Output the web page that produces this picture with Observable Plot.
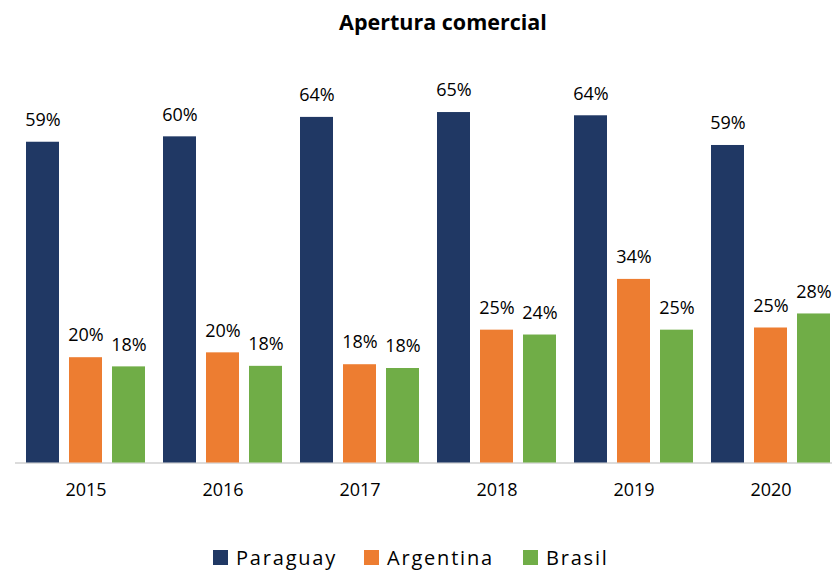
<!DOCTYPE html>
<html>
<head>
<meta charset="utf-8">
<script src="https://cdn.jsdelivr.net/npm/d3@7"></script>
<script src="https://cdn.jsdelivr.net/npm/@observablehq/plot@0.6"></script>
<style>
  html, body { margin: 0; padding: 0; background: #fff; overflow: hidden; }
  #wrap { position: relative; width: 832px; height: 571px; overflow: hidden; font-family: "Open Sans", sans-serif; }
  #chart { position: absolute; left: 0; top: 0; }
  #title { position: absolute; left: 54px; width: 778px; top: 7px; text-align: center; font-weight: bold; font-size: 21.5px; line-height: 30px; color: #000; }
  .leg { position: absolute; top: 543px; height: 28px; display: flex; align-items: center; font-size: 20px; letter-spacing: 1.8px; color: #000; }
  .sw { width: 15px; height: 15px; margin-right: 8px; }
</style>
</head>
<body>
<div id="wrap">
  <div id="chart"></div>
  <div id="title">Apertura comercial</div>
  <div id="legend"></div>
</div>
<script>
const years = ["2015", "2016", "2017", "2018", "2019", "2020"];
const countries = ["Paraguay", "Argentina", "Brasil"];
const paraguay = [59.4, 60.4, 64.0, 64.9, 64.3, 58.8];
const argentina = [19.5, 20.4, 18.2, 24.6, 34.0, 25.0];
const brasil = [17.8, 17.9, 17.5, 23.7, 24.6, 27.6];
const colors = ["#203864", "#ED7D31", "#70AD47"];

const series = [paraguay, argentina, brasil];
const rows = [];
countries.forEach((c, i) => years.forEach((y, j) => rows.push({ year: y, country: c, value: series[i][j] })));

const insL = [0, 43, 86], insR = [86, 43, 0], offs = [-43, 0, 43];
const marks = [];
countries.forEach((c, i) => {
  const sub = rows.filter(d => d.country === c);
  marks.push(Plot.barY(sub, { x: "year", y: "value", fill: colors[i], insetLeft: insL[i], insetRight: insR[i] }));
  marks.push(Plot.text(sub, { x: "year", y: "value", text: d => Math.round(d.value) + "%", dx: offs[i], dy: -22, fill: "#000", fontSize: 18 }));
});
marks.unshift(Plot.ruleY([0], { stroke: "#d0d0d0", strokeWidth: 1.5 }));

const chart = Plot.plot({
  width: 832,
  height: 510,
  marginLeft: 15,
  marginRight: 0,
  marginTop: 84.5,
  marginBottom: 47.5,
  style: { fontFamily: "Open Sans, sans-serif", fontSize: "18px", color: "#000", background: "transparent", overflow: "visible" },
  x: { domain: years, range: [24, 832], paddingInner: 0.128, paddingOuter: 0, label: null, tickSize: 0, tickPadding: 20 },
  y: { domain: [0, 70], axis: null },
  marks
});
document.getElementById("chart").appendChild(chart);

const legPos = [213, 364, 523];
const legend = document.getElementById("legend");
countries.forEach((c, i) => {
  const el = document.createElement("div");
  el.className = "leg";
  el.style.left = legPos[i] + "px";
  el.innerHTML = `<div class="sw" style="background:${colors[i]}"></div><span>${c}</span>`;
  legend.appendChild(el);
});
</script>
</body>
</html>
